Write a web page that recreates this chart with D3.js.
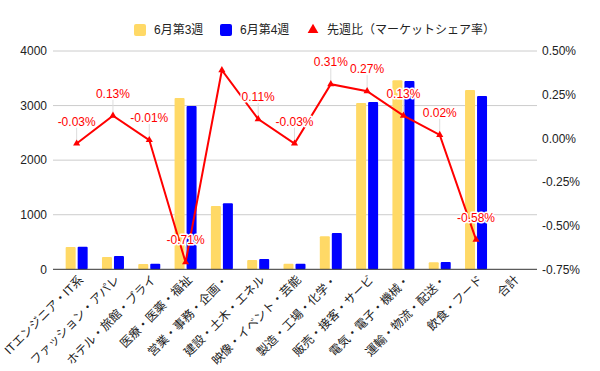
<!DOCTYPE html>
<html>
<head>
<meta charset="utf-8">
<script src="https://cdn.jsdelivr.net/npm/d3@7"></script>
<style>
  body { margin: 0; background: #fff; }
  svg text { font-family: "Liberation Sans", "Noto Sans CJK JP", sans-serif; }
</style>
</head>
<body>
<svg width="600" height="371"></svg>
<script>
const categories = ["ITエンジニア・IT系", "ファッション・アパレ", "ホテル・旅館・ブライ", "医療・医薬・福祉", "営業・事務・企画・", "建設・土木・エネル", "映像・イベント・芸能", "製造・工場・化学・", "販売・接客・サービ", "電気・電子・機械・", "運輸・物流・配送・", "飲食・フード", "合計"];
const week3 = [410, 225, 95, 3140, 1160, 170, 100, 605, 3045, 3465, 130, 3285, null];
const week4 = [415, 243, 100, 2990, 1210, 190, 100, 665, 3065, 3450, 135, 3175, null];
const shareDiff = [-0.03, 0.13, -0.01, -0.71, 0.39, 0.11, -0.03, 0.31, 0.27, 0.13, 0.02, -0.58, null];
const leftTicks = [0, 1000, 2000, 3000, 4000];
const rightTicks = [-0.75, -0.5, -0.25, 0, 0.25, 0.5];
const seriesNames = ["6月第3週", "6月第4週", "先週比（マーケットシェア率）"];

const svg = d3.select("svg");
const plotTop = 51, plotBottom = 269.3;
const gridLeft = 53, gridRight = 537;
const yellow = "#ffd966", blue = "#0000ff", red = "#ff0000";

const x = d3.scaleBand().domain(categories).range([58.5, 530.5]);
const yL = d3.scaleLinear().domain([0, 4000]).range([plotBottom, plotTop]);
const yR = d3.scaleLinear().domain([-0.75, 0.5]).range([plotBottom, plotTop]);

// gridlines
svg.append("g")
  .selectAll("line")
  .data(leftTicks.slice(1))
  .enter()
  .append("line")
  .attr("x1", gridLeft).attr("x2", gridRight)
  .attr("y1", d => yL(d)).attr("y2", d => yL(d))
  .attr("stroke", "#cccccc").attr("stroke-width", 1);

// left axis
const leftAxis = svg.append("g")
  .attr("transform", `translate(${gridLeft - 6}, 0)`)
  .call(d3.axisLeft(yL).tickValues(leftTicks).tickSize(0).tickPadding(0).tickFormat(d3.format("d")));
leftAxis.select(".domain").remove();
leftAxis.selectAll("text").attr("font-size", 12).attr("fill", "#222");

// right axis
const rightAxis = svg.append("g")
  .attr("transform", `translate(${gridRight + 5}, 0)`)
  .call(d3.axisRight(yR).tickValues(rightTicks).tickSize(0).tickPadding(0)
    .tickFormat(d => d.toFixed(2) + "%"));
rightAxis.select(".domain").remove();
rightAxis.selectAll("text").attr("font-size", 12).attr("fill", "#222");

// bars
const barW = 10, gap = 2;
const bars = svg.append("g");
[[week3, yellow, -1], [week4, blue, 1]].forEach(([vals, color, side]) => {
  bars.selectAll(null)
    .data(categories.map((c, i) => ({ c, v: vals[i] })).filter(d => d.v != null))
    .enter()
    .append("rect")
    .attr("x", d => x(d.c) + x.bandwidth() / 2 + (side < 0 ? -barW - gap / 2 : gap / 2))
    .attr("y", d => yL(d.v))
    .attr("width", barW)
    .attr("height", d => plotBottom - yL(d.v))
    .attr("rx", 1)
    .attr("fill", color);
});

// baseline
svg.append("line")
  .attr("x1", gridLeft).attr("x2", gridRight)
  .attr("y1", plotBottom).attr("y2", plotBottom)
  .attr("stroke", "#333").attr("stroke-width", 1);

// line series
const pts = categories.map((c, i) => ({ c, v: shareDiff[i] })).filter(d => d.v != null);
const cx = d => x(d.c) + x.bandwidth() / 2;

// leader lines + labels (labels that would leave the plot are dropped)
const labelled = pts.filter(d => yR(d.v) - 22 > plotTop);
svg.append("g").selectAll("line")
  .data(labelled)
  .enter()
  .append("line")
  .attr("x1", cx).attr("x2", cx)
  .attr("y1", d => yR(d.v) - 16).attr("y2", d => yR(d.v))
  .attr("stroke", "#dddddd").attr("stroke-width", 1);

svg.append("path")
  .datum(pts)
  .attr("fill", "none")
  .attr("stroke", red)
  .attr("stroke-width", 2)
  .attr("d", d3.line().x(cx).y(d => yR(d.v)));

svg.append("g").selectAll("path")
  .data(pts)
  .enter()
  .append("path")
  .attr("transform", d => `translate(${cx(d)}, ${yR(d.v)})`)
  .attr("d", d3.symbol(d3.symbolTriangle, 22))
  .attr("fill", red);

svg.append("g").selectAll("text")
  .data(labelled)
  .enter()
  .append("text")
  .attr("x", cx)
  .attr("y", d => yR(d.v) - 18)
  .attr("text-anchor", "middle")
  .attr("font-size", 12)
  .attr("fill", red)
  .attr("stroke", "#fff")
  .attr("stroke-width", 3)
  .attr("stroke-linejoin", "round")
  .attr("paint-order", "stroke")
  .text(d => d.v.toFixed(2) + "%");

// x labels
svg.append("g").selectAll("text")
  .data(categories)
  .enter()
  .append("text")
  .attr("transform", d => `translate(${x(d) + x.bandwidth() / 2 + 5}, ${plotBottom + 9}) rotate(-45)`)
  .attr("text-anchor", "end")
  .attr("dominant-baseline", "middle")
  .attr("font-size", 12)
  .attr("fill", "#222")
  .text(d => d);

// legend
const legend = svg.append("g").attr("transform", "translate(0, 30)");
legend.append("rect").attr("x", 134).attr("y", -6).attr("width", 12).attr("height", 12).attr("rx", 2).attr("fill", yellow);
legend.append("text").attr("x", 154).attr("y", 0).attr("dominant-baseline", "central").attr("font-size", 12).attr("fill", "#222").text(seriesNames[0]);
legend.append("rect").attr("x", 220).attr("y", -6).attr("width", 12).attr("height", 12).attr("rx", 2).attr("fill", blue);
legend.append("text").attr("x", 240).attr("y", 0).attr("dominant-baseline", "central").attr("font-size", 12).attr("fill", "#222").text(seriesNames[1]);
legend.append("path").attr("transform", "translate(313, 0)").attr("d", d3.symbol(d3.symbolTriangle, 50)).attr("fill", red);
legend.append("text").attr("x", 327).attr("y", 0).attr("dominant-baseline", "central").attr("font-size", 12).attr("fill", "#222").text(seriesNames[2]);
</script>
</body>
</html>
